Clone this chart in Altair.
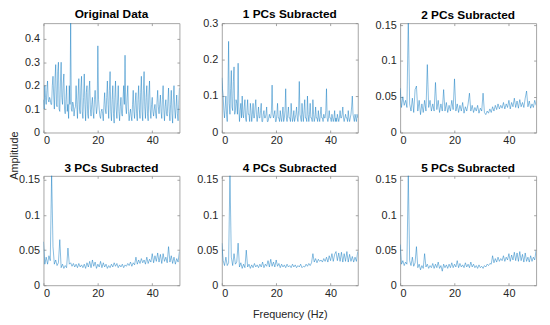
import altair as alt
import pandas as pd

FREQ_FINE = [i * 0.25 for i in range(201)]
FREQ = [i * 0.5 for i in range(101)]

TITLES = ["Original Data", "1 PCs Subracted", "2 PCs Subracted",
          "3 PCs Subracted", "4 PCs Subracted", "5 PCs Subracted"]

ORIGINAL = [
    0.14, 0.10, 0.20, 0.15, 0.12, 0.18, 0.22, 0.14, 0.13, 0.15, 0.14, 0.12,
    0.12, 0.20, 0.24, 0.16, 0.10, 0.23, 0.29, 0.12, 0.11, 0.26, 0.30, 0.10,
    0.09, 0.22, 0.30, 0.15, 0.12, 0.21, 0.25, 0.10, 0.08, 0.14, 0.20, 0.09,
    0.12, 0.06, 0.20, 0.12, 0.47, 0.10, 0.09, 0.13, 0.12, 0.07, 0.10, 0.11,
    0.20, 0.12, 0.06, 0.16, 0.23, 0.10, 0.08, 0.19, 0.24, 0.09, 0.06, 0.15,
    0.25, 0.12, 0.05, 0.17, 0.20, 0.08, 0.06, 0.18, 0.22, 0.10, 0.07, 0.12,
    0.15, 0.09, 0.06, 0.14, 0.18, 0.12, 0.08, 0.11, 0.37, 0.14, 0.10, 0.07,
    0.06, 0.09, 0.10, 0.08, 0.05, 0.12, 0.17, 0.10, 0.08, 0.15, 0.22, 0.12,
    0.06, 0.18, 0.26, 0.09, 0.05, 0.14, 0.20, 0.08, 0.04, 0.15, 0.22, 0.10,
    0.06, 0.13, 0.20, 0.09, 0.05, 0.11, 0.15, 0.08, 0.07, 0.14, 0.20, 0.12,
    0.33, 0.11, 0.08, 0.15, 0.20, 0.09, 0.05, 0.08, 0.10, 0.07, 0.05, 0.12,
    0.18, 0.09, 0.06, 0.13, 0.17, 0.08, 0.05, 0.14, 0.20, 0.10, 0.06, 0.17,
    0.24, 0.09, 0.05, 0.18, 0.26, 0.11, 0.06, 0.15, 0.20, 0.08, 0.05, 0.16,
    0.22, 0.10, 0.06, 0.12, 0.15, 0.09, 0.07, 0.10, 0.12, 0.08, 0.06, 0.13,
    0.18, 0.11, 0.08, 0.12, 0.16, 0.09, 0.06, 0.14, 0.20, 0.10, 0.05, 0.11,
    0.14, 0.08, 0.07, 0.13, 0.19, 0.09, 0.05, 0.12, 0.18, 0.08, 0.04, 0.14,
    0.20, 0.10, 0.06, 0.11, 0.16, 0.08, 0.05, 0.12, 0.19,
]

PC1 = [
    0.15, 0.12, 0.10, 0.06, 0.04, 0.07, 0.10, 0.05, 0.03, 0.10, 0.25, 0.08,
    0.05, 0.12, 0.17, 0.07, 0.06, 0.14, 0.18, 0.05, 0.06, 0.09, 0.08, 0.05,
    0.19, 0.07, 0.03, 0.06, 0.08, 0.04, 0.10, 0.05, 0.04, 0.07, 0.09, 0.04,
    0.03, 0.06, 0.09, 0.05, 0.05, 0.03, 0.08, 0.06, 0.03, 0.05, 0.08, 0.04,
    0.04, 0.07, 0.09, 0.05, 0.03, 0.05, 0.07, 0.04, 0.04, 0.06, 0.08, 0.03,
    0.03, 0.05, 0.06, 0.04, 0.04, 0.05, 0.07, 0.03, 0.03, 0.04, 0.05, 0.04,
    0.04, 0.06, 0.13, 0.05, 0.04, 0.05, 0.06, 0.03, 0.03, 0.05, 0.08, 0.04,
    0.04, 0.03, 0.06, 0.04, 0.03, 0.05, 0.07, 0.03, 0.04, 0.06, 0.12, 0.04,
    0.03, 0.05, 0.07, 0.04, 0.04, 0.03, 0.08, 0.05, 0.03, 0.04, 0.06, 0.03,
    0.04, 0.05, 0.07, 0.04, 0.03, 0.06, 0.14, 0.05, 0.04, 0.03, 0.08, 0.05,
    0.03, 0.06, 0.09, 0.04, 0.04, 0.03, 0.10, 0.05, 0.03, 0.05, 0.08, 0.04,
    0.04, 0.03, 0.09, 0.05, 0.03, 0.04, 0.07, 0.04, 0.04, 0.03, 0.06, 0.04,
    0.03, 0.05, 0.07, 0.04, 0.04, 0.03, 0.05, 0.04, 0.04, 0.06, 0.12, 0.04,
    0.03, 0.04, 0.06, 0.04, 0.04, 0.03, 0.05, 0.04, 0.03, 0.04, 0.06, 0.03,
    0.04, 0.03, 0.05, 0.04, 0.03, 0.04, 0.06, 0.04, 0.04, 0.05, 0.07, 0.04,
    0.03, 0.04, 0.05, 0.04, 0.04, 0.03, 0.06, 0.04, 0.03, 0.04, 0.05, 0.07,
    0.10, 0.05, 0.04, 0.03, 0.05, 0.04, 0.03, 0.05, 0.04,
]

PC2 = [
    0.062, 0.035, 0.050, 0.038, 0.045, 0.035, 0.160, 0.040, 0.030, 0.048,
    0.028, 0.060, 0.065, 0.030, 0.045, 0.025, 0.040, 0.028, 0.045, 0.030,
    0.095, 0.035, 0.045, 0.030, 0.040, 0.030, 0.070, 0.032, 0.045, 0.028,
    0.040, 0.030, 0.060, 0.030, 0.042, 0.028, 0.038, 0.030, 0.045, 0.032,
    0.075, 0.030, 0.040, 0.028, 0.038, 0.030, 0.042, 0.027, 0.036, 0.030,
    0.040, 0.055, 0.030, 0.038, 0.028, 0.035, 0.030, 0.038, 0.027, 0.034,
    0.030, 0.055, 0.028, 0.025, 0.030, 0.027, 0.033, 0.028, 0.036, 0.030,
    0.038, 0.032, 0.040, 0.033, 0.038, 0.034, 0.042, 0.033, 0.040, 0.035,
    0.045, 0.033, 0.042, 0.036, 0.048, 0.035, 0.044, 0.034, 0.046, 0.036,
    0.042, 0.035, 0.048, 0.058, 0.036, 0.044, 0.034, 0.040, 0.035, 0.045,
    0.038,
]

PC3 = [
    0.062, 0.030, 0.040, 0.030, 0.042, 0.035, 0.160, 0.055, 0.030, 0.036,
    0.028, 0.032, 0.065, 0.025, 0.030, 0.024, 0.028, 0.025, 0.053, 0.030,
    0.032, 0.027, 0.031, 0.026, 0.030, 0.025, 0.031, 0.026, 0.029, 0.025,
    0.030, 0.024, 0.032, 0.026, 0.034, 0.025, 0.036, 0.027, 0.033, 0.024,
    0.030, 0.026, 0.034, 0.025, 0.032, 0.026, 0.030, 0.024, 0.028, 0.025,
    0.030, 0.026, 0.032, 0.027, 0.031, 0.025, 0.029, 0.026, 0.030, 0.025,
    0.029, 0.027, 0.031, 0.028, 0.033, 0.027, 0.032, 0.029, 0.040, 0.030,
    0.036, 0.031, 0.038, 0.032, 0.036, 0.030, 0.040, 0.031, 0.037, 0.033,
    0.045, 0.032, 0.042, 0.034, 0.046, 0.033, 0.044, 0.031, 0.045, 0.034,
    0.040, 0.032, 0.055, 0.033, 0.042, 0.031, 0.040, 0.030, 0.038, 0.033,
    0.048,
]

PC4 = [
    0.060, 0.035, 0.028, 0.040, 0.028, 0.032, 0.160, 0.040, 0.028, 0.045,
    0.030, 0.033, 0.060, 0.026, 0.032, 0.024, 0.030, 0.025, 0.050, 0.026,
    0.030, 0.024, 0.029, 0.025, 0.031, 0.026, 0.029, 0.025, 0.030, 0.026,
    0.033, 0.025, 0.030, 0.027, 0.035, 0.026, 0.037, 0.027, 0.033, 0.026,
    0.036, 0.027, 0.031, 0.025, 0.030, 0.026, 0.029, 0.025, 0.030, 0.026,
    0.028, 0.025, 0.030, 0.026, 0.029, 0.025, 0.028, 0.026, 0.030, 0.025,
    0.027, 0.026, 0.030, 0.027, 0.031, 0.028, 0.032, 0.045, 0.033, 0.038,
    0.032, 0.037, 0.034, 0.036, 0.033, 0.038, 0.034, 0.040, 0.033, 0.042,
    0.035, 0.045, 0.034, 0.044, 0.048, 0.035, 0.046, 0.034, 0.047, 0.033,
    0.045, 0.034, 0.048, 0.033, 0.044, 0.034, 0.041, 0.033, 0.040, 0.034,
    0.048,
]

PC5 = [
    0.058, 0.030, 0.035, 0.028, 0.033, 0.030, 0.160, 0.035, 0.028, 0.040,
    0.027, 0.032, 0.055, 0.025, 0.030, 0.022, 0.028, 0.024, 0.045, 0.026,
    0.030, 0.024, 0.028, 0.025, 0.031, 0.024, 0.030, 0.025, 0.033, 0.024,
    0.028, 0.020, 0.030, 0.025, 0.029, 0.024, 0.030, 0.025, 0.032, 0.025,
    0.030, 0.026, 0.035, 0.025, 0.031, 0.026, 0.029, 0.025, 0.032, 0.026,
    0.030, 0.025, 0.033, 0.026, 0.030, 0.025, 0.028, 0.024, 0.029, 0.025,
    0.027, 0.024, 0.028, 0.026, 0.030, 0.028, 0.031, 0.030, 0.042, 0.032,
    0.038, 0.033, 0.040, 0.034, 0.038, 0.035, 0.042, 0.034, 0.040, 0.036,
    0.045, 0.034, 0.043, 0.036, 0.047, 0.035, 0.046, 0.034, 0.048, 0.035,
    0.044, 0.033, 0.046, 0.034, 0.040, 0.033, 0.042, 0.034, 0.040, 0.036,
    0.050,
]

SERIES = [ORIGINAL, PC1, PC2, PC3, PC4, PC5]
FREQS = [FREQ_FINE, FREQ_FINE, FREQ, FREQ, FREQ, FREQ]
Y_MAX = [0.467, 0.3, 0.153, 0.156, 0.156, 0.156]
Y_TICKS = [
    [0, 0.1, 0.2, 0.3, 0.4],
    [0, 0.1, 0.2, 0.3],
    [0, 0.05, 0.1, 0.15],
    [0, 0.05, 0.1, 0.15],
    [0, 0.05, 0.1, 0.15],
    [0, 0.05, 0.1, 0.15],
]
X_TICKS = [0, 20, 40]
TITLE_OFFSETS = [2, -4, -3, -1, -1, -1]

FONT = "Liberation Sans"
LINE_COLOR = "#0072BD"
TEXT_COLOR = "#262626"
TICK_COLOR = "#8c8c8c"


def tick_axis(values, orient):
    return alt.Axis(values=values, tickCount=len(values), orient=orient,
                    labels=False, domain=False, ticks=True, tickSize=2.5,
                    tickColor=TICK_COLOR, tickWidth=0.8, offset=-2.5,
                    title=None, grid=False)


def panel(i):
    df = pd.DataFrame({"f": FREQS[i], "a": SERIES[i]})
    x_scale = alt.Scale(domain=[0, 50], nice=False)
    y_scale = alt.Scale(domain=[0, Y_MAX[i]], nice=False)
    yt = Y_TICKS[i]
    if i == 0:
        y_axis = alt.Axis(values=yt, tickCount=len(yt), format="~g",
                          title="Amplitude", labelOverlap=False,
                          titleAngle=270, titleX=-29, titleY=134,
                          titleAlign="center", titleBaseline="middle")
    elif i == 2:
        y_axis = alt.Axis(tickCount=len(yt), format="~g", title=None,
                          labelOverlap=False)
    else:
        y_axis = alt.Axis(values=yt, tickCount=len(yt), format="~g",
                          title=None, labelOverlap=False)
    if i == 4:
        x_axis = alt.Axis(values=X_TICKS, tickCount=3, format="d",
                          title="Frequency (Hz)")
    else:
        x_axis = alt.Axis(values=X_TICKS, tickCount=3, format="d", title=None)

    base = alt.Chart(df)
    line = base.mark_line(color=LINE_COLOR, strokeWidth=0.55, opacity=0.85,
                          clip=True).encode(
        x=alt.X("f:Q", scale=x_scale, axis=x_axis),
        y=alt.Y("a:Q", scale=y_scale, axis=y_axis),
    )
    ticks_a = base.mark_line(opacity=0, clip=True).encode(
        x=alt.X("f:Q", scale=x_scale, axis=tick_axis(X_TICKS, "bottom")),
        y=alt.Y("a:Q", scale=y_scale, axis=tick_axis(yt, "left")),
    )
    ticks_b = base.mark_line(opacity=0, clip=True).encode(
        x=alt.X("f:Q", scale=x_scale, axis=tick_axis(X_TICKS, "top")),
        y=alt.Y("a:Q", scale=y_scale, axis=tick_axis(yt, "right")),
    )
    return (
        alt.layer(line, ticks_a, ticks_b)
        .resolve_axis(x="independent", y="independent")
        .properties(
            width=138,
            height=111,
            title=alt.TitleParams(TITLES[i], fontSize=12, font=FONT,
                                  fontWeight="bold", color="#000000",
                                  offset=TITLE_OFFSETS[i], anchor="middle",
                                  frame="group"),
        )
    )


chart = (
    alt.concat(*[panel(i) for i in range(6)], columns=3,
               spacing=alt.RowColnumber(row=44, column=43), bounds="flush")
    .properties(padding={"left": 0, "top": -3, "right": 5, "bottom": 0})
    .configure_view(stroke="#a6a6a6", strokeWidth=1)
    .configure_axis(
        grid=False, ticks=False, domain=False,
        labelFont=FONT, labelFontSize=11, labelColor=TEXT_COLOR,
        titleFont=FONT, titleFontSize=11, titleFontWeight="normal",
        titleColor=TEXT_COLOR,
    )
    .configure_axisX(labelPadding=2, titlePadding=11)
    .configure_axisY(labelPadding=4)
)

chart.save("out.html", embed_options={"renderer": "svg", "actions": False})
